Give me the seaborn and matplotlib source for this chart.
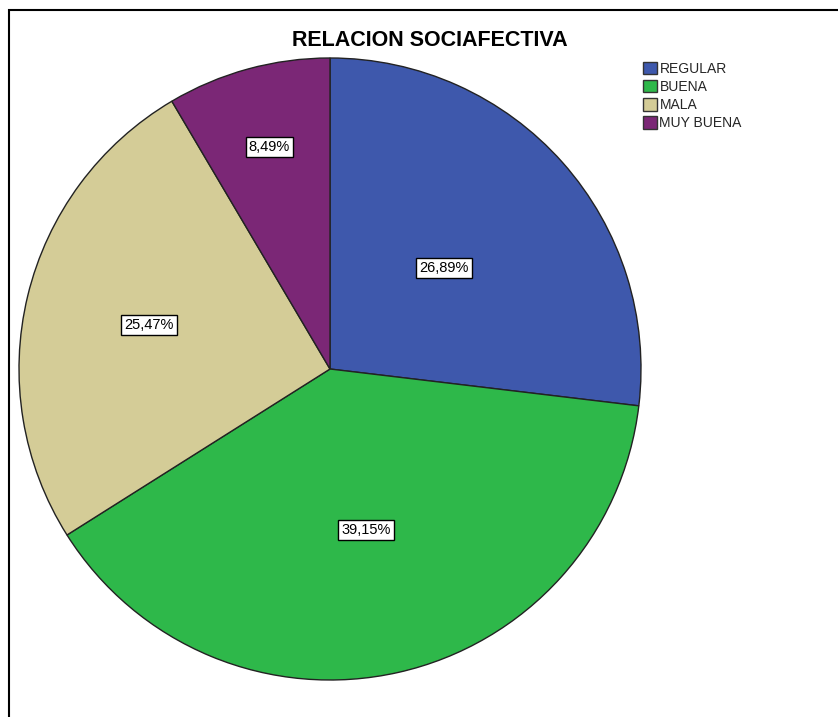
import numpy as np
import matplotlib
matplotlib.use("Agg")
import matplotlib.pyplot as plt
from matplotlib.patches import Rectangle
import seaborn as sns

categories = ["REGULAR", "BUENA", "MALA", "MUY BUENA"]
percentages = [26.89, 39.15, 25.47, 8.49]
label_texts = ["26,89%", "39,15%", "25,47%", "8,49%"]
colors = ["#3E58AC", "#2EB84A", "#D4CC97", "#7B2776"]
title = "RELACION SOCIAFECTIVA"

sns.set_theme(style="white")
plt.rcParams["font.family"] = ["Liberation Sans", "DejaVu Sans"]

W, H = 838, 717
fig = plt.figure(figsize=(W / 100, H / 100), dpi=100)
fig.patch.set_facecolor("white")

# outer frame (right and bottom edges lie outside the picture)
fig.patches.append(Rectangle((9 / W, -0.2), 1.2, 1.2 - 10 / H, transform=fig.transFigure,
                             fill=False, edgecolor="black", linewidth=1.5))

cx, cy, R = 330, 369, 311
ax = fig.add_axes([(cx - R) / W, (H - cy - R) / H, 2 * R / W, 2 * R / H])
wedges, _ = ax.pie(percentages, colors=colors, startangle=90, counterclock=False,
                   wedgeprops=dict(edgecolor="#222222", linewidth=1.0))
ax.set_xlim(-1, 1)
ax.set_ylim(-1, 1)
ax.set_aspect("equal")
ax.axis("off")

label_dist = [0.49, 0.53, 0.60, 0.74]
cum = np.cumsum([0] + percentages)
for i, txt in enumerate(label_texts):
    mid = 90 - (cum[i] + percentages[i] / 2) * 3.6
    a = np.deg2rad(mid)
    ax.text(label_dist[i] * np.cos(a), label_dist[i] * np.sin(a), txt,
            ha="center", va="center", fontsize=10.5, color="black",
            bbox=dict(boxstyle="square,pad=0.22", facecolor="white",
                      edgecolor="black", linewidth=1.0))

fig.text(430 / W, 1 - 40.5 / H, title, ha="center", va="center",
         fontsize=15.5, fontweight="bold", color="black")

handles = [Rectangle((0, 0), 1, 1, facecolor=c, edgecolor="#333333", linewidth=1.0)
           for c in colors]
fig.legend(handles, categories, loc="upper left",
           bbox_to_anchor=(633 / W, 1 - 52 / H), frameon=False,
           fontsize=10, handlelength=1.0, handleheight=1.0,
           handletextpad=0.2, labelspacing=0.3, borderpad=0.2)

fig.savefig("out.png", dpi=100, facecolor="white")
